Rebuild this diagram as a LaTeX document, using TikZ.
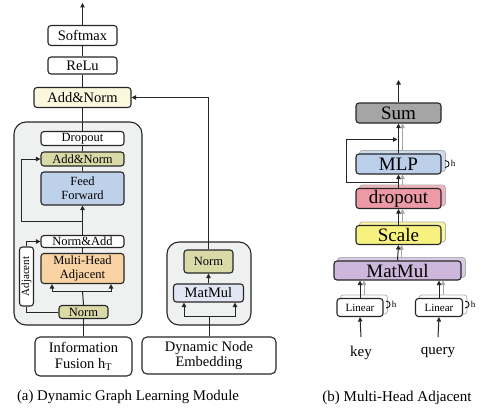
\documentclass[tikz,border=0pt]{standalone}
\usepackage{fontspec}
\setmainfont{Liberation Serif}
\usetikzlibrary{arrows.meta,backgrounds,calc}
\definecolor{cream}{HTML}{FCF8DE}
\definecolor{olive}{HTML}{DADAA8}
\definecolor{ffblue}{HTML}{BED1EB}
\definecolor{mhaorange}{HTML}{F9D3A3}
\definecolor{graybg}{HTML}{EFF0F0}
\definecolor{mmlight}{HTML}{E2E5F4}
\definecolor{sumgray}{HTML}{A5A5A5}
\definecolor{mlpblue}{HTML}{BBCFEA}
\definecolor{droppink}{HTML}{EC9AA5}
\definecolor{scaleyellow}{HTML}{F7F27F}
\definecolor{mmpurple}{HTML}{CDB8DC}
\newcommand{\fa}{\fontsize{14.5}{15.5}\selectfont}
\newcommand{\fb}{\fontsize{12.5}{14}\selectfont}
\newcommand{\fc}{\fontsize{11}{12}\selectfont}
\newcommand{\fd}{\fontsize{19}{20}\selectfont}
\newcommand{\fh}{\fontsize{9}{10}\selectfont}
\begin{document}
\begin{tikzpicture}[x=1pt,y=-1pt,
  box/.style={draw=black!85, line width=1.1pt, rounded corners=3pt, inner sep=0pt, align=center},
  container/.style={draw=black!85, line width=1.1pt, rounded corners=12pt, fill=graybg},
  ln/.style={line width=1pt, draw=black!85},
  arr/.style={ln, -{Triangle[length=4.5pt,width=4.5pt]}},
  garr/.style={line width=1pt, draw=black!35, -{Triangle[length=4.5pt,width=4.5pt]}},
  lbl/.style={inner sep=0pt}
]
\useasboundingbox (0,0) rectangle (484,412);

% ---------- (a) ----------
\node[container, minimum width=128, minimum height=203] (gA) at (78,223.5) {};
\node[container, minimum width=84, minimum height=83] (gB) at (209,283.5) {};

\node[box, fill=white, minimum width=69, minimum height=20, font=\fa] (softmax) at (82.5,35.5) {Softmax};
\node[box, fill=white, minimum width=69, minimum height=17, font=\fa] (relu) at (82.5,65.5) {ReLu};
\node[box, fill=cream, minimum width=97, minimum height=20, font=\fa] (addT) at (82.5,97.5) {Add\&Norm};

\node[box, fill=white, minimum width=83, minimum height=14, font=\fb] (drop1) at (82.5,138.5) {Dropout};
\node[box, fill=olive, minimum width=83, minimum height=14, font=\fb] (an2) at (82.5,159) {Add\&Norm};
\node[box, fill=ffblue, minimum width=83, minimum height=33, font=\fb] (ff) at (82.5,188.5) {Feed\\Forward};
\node[box, fill=white, minimum width=83, minimum height=12, font=\fb] (na) at (82.5,241.5) {Norm\&Add};
\node[box, fill=mhaorange, minimum width=83, minimum height=30, font=\fb] (mha) at (82.5,268.5) {Multi-Head\\Adjacent};
\node[box, fill=white, rotate=90, minimum width=59, minimum height=14, font=\fc] (adj) at (26.5,276.5) {Adjacent};
\node[box, fill=olive, minimum width=49, minimum height=13, font=\fb] (norm1) at (83.5,312) {Norm};
\node[box, fill=white, minimum width=97, minimum height=39, font=\fa, rounded corners=5pt] (info) at (83.5,356.5) {Information\\Fusion h\textsubscript{T}};

\node[box, fill=olive, minimum width=49, minimum height=23, font=\fb] (normR) at (208.5,261.5) {Norm};
\node[box, fill=mmlight, minimum width=70, minimum height=18, font=\fa] (mmL) at (208.5,293) {MatMul};
\node[box, fill=white, minimum width=134, minimum height=37, font=\fa, rounded corners=5pt] (dne) at (209,355.5) {Dynamic Node\\Embedding};

\node[lbl, font=\fontsize{14.8}{16}\selectfont] (capA) at (128,397) {(a) Dynamic Graph Learning Module};

\coordinate (topA) at (82.5,3);
\draw[arr] (softmax.north) -- (topA);
\draw[ln] (relu.north) -- (softmax.south);
\draw[ln] (addT.north) -- (relu.south);
\draw[ln] (drop1.north) -- (addT.south);
\draw[ln] (an2.north) -- (drop1.south);
\draw[ln] (ff.north) -- (an2.south);
\draw[arr] (na.north) -- (ff.south);
\draw[ln] (mha.north) -- (na.south);
\coordinate (fork1) at (82.5,291);
\draw[ln] (norm1.north) -- (fork1);
\draw[arr] (fork1) -| ($(mha.south)+(-30.5,0)$);
\draw[arr] (fork1) -| ($(mha.south)+(28.5,0)$);
\coordinate (res1) at (82.5,221);
\draw[arr] (res1) -- (21,221) |- (an2.west);
\draw[ln] (norm1.west) -| (adj.west);
\draw[arr] (adj.east) |- (na.west);
\draw[ln] (norm1.south) -- (info.north);

\coordinate (fork2) at (209,316);
\draw[ln] (dne.north) -- (fork2);
\draw[arr] (fork2) -| ($(mmL.south)+(-24.5,0)$);
\draw[arr] (fork2) -| ($(mmL.south)+(26.5,0)$);
\draw[arr] (mmL.north) -- (normR.south);
\draw[arr] (normR.north) |- (addT.east);

% ---------- (b) ----------
\node[box, fill=sumgray, minimum width=85, minimum height=20, font=\fd] (sum) at (398.5,113) {Sum};
\node[box, fill=mlpblue, minimum width=85, minimum height=20, font=\fd] (mlp) at (398.5,164) {MLP};
\node[box, fill=droppink, minimum width=85, minimum height=20, font=\fd] (drp) at (398.5,198.5) {dropout};
\node[box, fill=scaleyellow, minimum width=85, minimum height=19, font=\fd] (scl) at (398.5,235) {Scale};
\node[box, fill=mmpurple, minimum width=127, minimum height=19, font=\fd] (mmR) at (397.5,270.5) {MatMul};
\node[box, fill=white, minimum width=46, minimum height=18, font=\fc] (linL) at (360,307.5) {Linear};
\node[box, fill=white, minimum width=47, minimum height=18, font=\fc] (linR) at (439,307.5) {Linear};
\node[lbl, font=\fontsize{15}{16}\selectfont] (key) at (361,353) {key};
\node[lbl, font=\fontsize{15}{16}\selectfont] (query) at (438,353) {query};
\node[lbl, font=\fontsize{15}{16}\selectfont] (capB) at (397,398) {(b) Multi-Head Adjacent};

\begin{scope}[on background layer]
\foreach \n/\c in {mlp/mlpblue, drp/droppink, scl/scaleyellow, mmR/mmpurple, linL/white, linR/white}
  \draw[fill=\c!75, draw=black!30, line width=0.8pt, rounded corners=3pt]
    ([shift={(4,-3)}]\n.south west) rectangle ([shift={(4,-3)}]\n.north east);
\end{scope}

\coordinate (topB) at (398.5,80);
\draw[arr] (sum.north) -- (topB);
\draw[garr] ([shift={(4,-3)}]mlp.north) -- ([xshift=4pt]mlp.north |- sum.south);
\draw[arr] (mlp.north) -- (sum.south);
\draw[garr] ([shift={(4,-3)}]drp.north) -- ([xshift=4pt]drp.north |- mlp.south);
\draw[arr] (drp.north) -- (mlp.south);
\draw[garr] ([shift={(4,-3)}]scl.north) -- ([xshift=4pt]scl.north |- drp.south);
\draw[arr] (scl.north) -- (drp.south);
\draw[garr] ([shift={(4,-3)}]mmR.north) -- ([xshift=4pt]mmR.north |- scl.south);
\draw[arr] (mmR.north) -- (scl.south);
\draw[garr] ([shift={(4,-3)}]linL.north) -- ([xshift=4pt]linL.north |- mmR.south);
\draw[arr] (linL.north) -- (linL.north |- mmR.south);
\draw[garr] ([shift={(4,-3)}]linR.north) -- ([xshift=4pt]linR.north |- mmR.south);
\draw[arr] (linR.north) -- (linR.north |- mmR.south);

\coordinate (resB1) at (398.5,182.5);
\coordinate (resB2) at (397.5,139.5);
\draw[arr] (resB1) -- (346,182.5) |- (resB2);

\coordinate (keyIn) at (361,337);
\coordinate (queryIn) at (438,337);
\draw[arr] (keyIn) -- (linL.south);
\draw[arr] (queryIn) -- (linR.south);

% h loops
\coordinate (hm1) at (445,160.5);
\coordinate (hm2) at (445,167.5);
\draw[line width=0.8pt] (hm1) to[out=0,in=0,looseness=2] (hm2);
\node[lbl, font=\fh] (hM) at (453,163.5) {h};
\coordinate (hl1) at (386,301);
\coordinate (hl2) at (386,308);
\draw[line width=0.8pt] (hl1) to[out=0,in=0,looseness=2] (hl2);
\node[lbl, font=\fh] (hL) at (394,304.5) {h};
\coordinate (hr1) at (465,301);
\coordinate (hr2) at (465,308);
\draw[line width=0.8pt] (hr1) to[out=0,in=0,looseness=2] (hr2);
\node[lbl, font=\fh] (hR) at (473,304.5) {h};
\end{tikzpicture}
\end{document}
